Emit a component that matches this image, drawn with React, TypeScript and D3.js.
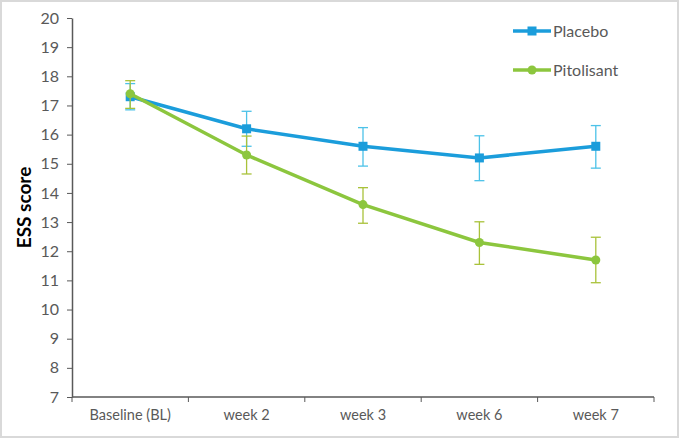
import { useEffect, useRef } from "react";
import * as d3 from "d3";

// categories and values
const weeks = ["Baseline (BL)", "week 2", "week 3", "week 6", "week 7"];
const placeboMean = [17.3, 16.2, 15.6, 15.2, 15.6];
const placeboLow = [16.85, 15.6, 14.92, 14.42, 14.85];
const placeboHigh = [17.75, 16.8, 16.24, 15.96, 16.31];
const pitolisantMean = [17.4, 15.3, 13.6, 12.3, 11.7];
const pitolisantLow = [16.9, 14.65, 12.96, 11.55, 10.92];
const pitolisantHigh = [17.85, 15.95, 14.18, 13.01, 12.48];
const yTicks = [7, 8, 9, 10, 11, 12, 13, 14, 15, 16, 17, 18, 19, 20];

const W = 679;
const H = 438;
const FONT = "Lato, 'Open Sans', sans-serif";

export default function App() {
  const ref = useRef<SVGSVGElement>(null);

  useEffect(() => {
    const svg = d3.select(ref.current);
    svg.selectAll("*").remove();

    // frame
    svg
      .append("rect")
      .attr("x", 1)
      .attr("y", 1)
      .attr("width", W - 2)
      .attr("height", H - 2)
      .attr("fill", "#fff")
      .attr("stroke", "#d9d9d9")
      .attr("stroke-width", 2);

    const left = 72;
    const right = 654;
    const top = 18;
    const bottom = 397;

    const x = d3.scaleBand().domain(weeks).range([left, right]);
    const y = d3.scaleLinear().domain([7, 20]).range([bottom, top]);
    const cx = (w: string) => x(w)! + x.bandwidth() / 2;

    // y axis
    const yAxis = svg
      .append("g")
      .attr("transform", `translate(${left},0)`)
      .call(d3.axisLeft(y).tickValues(yTicks).tickSize(5).tickPadding(8).tickSizeOuter(0));
    yAxis.select(".domain").attr("stroke", "#595959").attr("stroke-width", 1.5);
    yAxis.selectAll(".tick line").attr("stroke", "#595959");
    yAxis
      .selectAll(".tick text")
      .attr("fill", "#595959")
      .style("font-family", FONT)
      .style("font-size", "16px");

    // x axis with ticks at category boundaries
    svg
      .append("line")
      .attr("x1", left)
      .attr("x2", right)
      .attr("y1", bottom)
      .attr("y2", bottom)
      .attr("stroke", "#595959")
      .attr("stroke-width", 1.5);
    const bounds = weeks.map((w) => x(w)!).concat([right]);
    svg
      .selectAll(".xtick")
      .data(bounds)
      .enter()
      .append("line")
      .attr("x1", (d) => d)
      .attr("x2", (d) => d)
      .attr("y1", bottom)
      .attr("y2", bottom + 5)
      .attr("stroke", "#595959");
    svg
      .selectAll(".xlabel")
      .data(weeks)
      .enter()
      .append("text")
      .attr("x", (d) => cx(d))
      .attr("y", bottom + 23)
      .attr("text-anchor", "middle")
      .attr("fill", "#595959")
      .style("font-family", FONT)
      .style("font-size", "14.5px")
      .text((d) => d);

    // y label
    svg
      .append("text")
      .attr("transform", `translate(31,${(top + bottom) / 2}) rotate(-90)`)
      .attr("text-anchor", "middle")
      .attr("fill", "#000")
      .style("font-family", FONT)
      .style("font-size", "19px")
      .style("font-weight", "bold")
      .text("ESS score");

    const series = [
      {
        name: "Placebo",
        mean: placeboMean,
        low: placeboLow,
        high: placeboHigh,
        color: "#1b9ddb",
        err: "#4cc2e8",
        marker: "square",
      },
      {
        name: "Pitolisant",
        mean: pitolisantMean,
        low: pitolisantLow,
        high: pitolisantHigh,
        color: "#8cc63e",
        err: "#a9c23a",
        marker: "circle",
      },
    ];

    const line = d3
      .line<number>()
      .x((_, i) => cx(weeks[i]))
      .y((d) => y(d));

    series.forEach((s) => {
      const g = svg.append("g");
      // error bars
      weeks.forEach((w, i) => {
        const px = cx(w);
        g.append("line")
          .attr("x1", px)
          .attr("x2", px)
          .attr("y1", y(s.low[i]))
          .attr("y2", y(s.high[i]))
          .attr("stroke", s.err)
          .attr("stroke-width", 1.3);
        [s.low[i], s.high[i]].forEach((v) => {
          g.append("line")
            .attr("x1", px - 5)
            .attr("x2", px + 5)
            .attr("y1", y(v))
            .attr("y2", y(v))
            .attr("stroke", s.err)
            .attr("stroke-width", 1.3);
        });
      });
      g.append("path")
        .datum(s.mean)
        .attr("d", line)
        .attr("fill", "none")
        .attr("stroke", s.color)
        .attr("stroke-width", 3.5);
      s.mean.forEach((v, i) => {
        const px = cx(weeks[i]);
        if (s.marker === "square") {
          g.append("rect")
            .attr("x", px - 4.5)
            .attr("y", y(v) - 4.5)
            .attr("width", 9)
            .attr("height", 9)
            .attr("fill", s.color);
        } else {
          g.append("circle").attr("cx", px).attr("cy", y(v)).attr("r", 4.5).attr("fill", s.color);
        }
      });
    });

    // legend
    series.forEach((s, i) => {
      const ly = 31 + i * 39;
      const g = svg.append("g");
      g.append("line")
        .attr("x1", 513)
        .attr("x2", 551)
        .attr("y1", ly)
        .attr("y2", ly)
        .attr("stroke", s.color)
        .attr("stroke-width", 3.5);
      if (s.marker === "square") {
        g.append("rect").attr("x", 527.5).attr("y", ly - 4.5).attr("width", 9).attr("height", 9).attr("fill", s.color);
      } else {
        g.append("circle").attr("cx", 532).attr("cy", ly).attr("r", 4.5).attr("fill", s.color);
      }
      g.append("text")
        .attr("x", 553)
        .attr("y", ly + 5.5)
        .attr("fill", "#595959")
        .style("font-family", FONT)
        .style("font-size", "16px")
        .text(s.name);
    });
  }, []);

  return (
    <div style={{ position: "absolute", left: 0, top: 0 }}>
      <svg ref={ref} width={W} height={H} style={{ display: "block" }} />
    </div>
  );
}
